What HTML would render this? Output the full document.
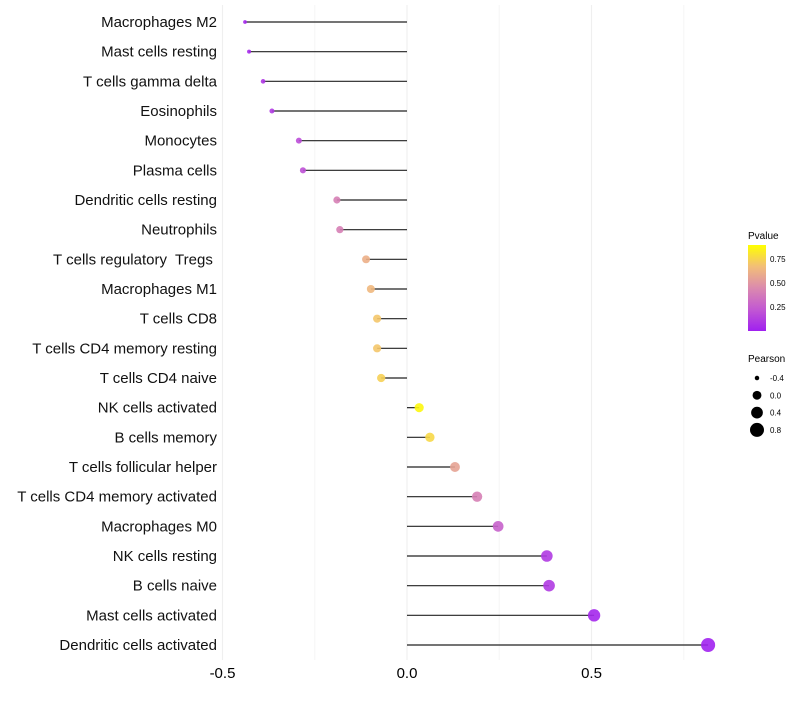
<!DOCTYPE html>
<html><head><meta charset="utf-8"><style>
body{margin:0;background:#fff;}
svg text{font-family:"Liberation Sans",sans-serif;white-space:pre;}
</style></head><body>
<svg id="chart" width="800" height="700" xmlns="http://www.w3.org/2000/svg">
<defs>
<linearGradient id="pg" x1="0" y1="1" x2="0" y2="0">
<stop offset="0" stop-color="#A020F0"/>
<stop offset="0.25" stop-color="#C258D2"/>
<stop offset="0.5" stop-color="#DB8AAE"/>
<stop offset="0.75" stop-color="#F2BE78"/>
<stop offset="1" stop-color="#FFFF00"/>
</linearGradient>
</defs>
<g id="grid"></g>
<g id="marks"></g>
<g id="ylabels"></g>
<g id="xlabels"></g>
<g>
<text x="748" y="239" font-size="10">Pvalue</text>
<rect x="748" y="245" width="18" height="86" fill="url(#pg)"/>
<text x="770" y="262" font-size="8">0.75</text>
<text x="770" y="286" font-size="8">0.50</text>
<text x="770" y="310" font-size="8">0.25</text>
</g>
<g id="sizeleg">
<text x="748" y="362" font-size="10">Pearson</text>
</g>
</svg>
<script>
const categories=["Macrophages M2","Mast cells resting","T cells gamma delta","Eosinophils","Monocytes","Plasma cells","Dendritic cells resting","Neutrophils","T cells regulatory  Tregs ","Macrophages M1","T cells CD8","T cells CD4 memory resting","T cells CD4 naive","NK cells activated","B cells memory","T cells follicular helper","T cells CD4 memory activated","Macrophages M0","NK cells resting","B cells naive","Mast cells activated","Dendritic cells activated"];
const pearson=[-0.439,-0.428,-0.39,-0.366,-0.293,-0.282,-0.19,-0.182,-0.111,-0.098,-0.081,-0.081,-0.07,0.033,0.062,0.13,0.19,0.247,0.379,0.385,0.507,0.816];
const pvalues=[0.03,0.04,0.1,0.12,0.2,0.22,0.45,0.45,0.68,0.72,0.78,0.78,0.82,0.97,0.85,0.62,0.45,0.3,0.12,0.12,0.03,0.01];
const xTicks=[-0.5,0,0.5];
const xMinor=[-0.25,0.25,0.75];
const sizeLegend=[-0.4,0.0,0.4,0.8];
const NS="http://www.w3.org/2000/svg";
const xs=v=>407+v*369;
const ys=i=>22+i*(623/21);
const rs=v=>Math.sqrt(5+(v+0.4)/1.2*44);
const stops=[[0,[160,32,240]],[0.25,[194,88,210]],[0.5,[219,138,174]],[0.75,[242,190,120]],[1,[255,255,0]]];
function col(p){for(let k=0;k<stops.length-1;k++){const a=stops[k],b=stops[k+1];if(p<=b[0]){const t=(p-a[0])/(b[0]-a[0]);return 'rgb('+a[1].map((c,j)=>Math.round(c+(b[1][j]-c)*t)).join(',')+')';}}return 'rgb(255,255,0)';}
function mk(tag,attrs,parent){const e=document.createElementNS(NS,tag);for(const k in attrs)e.setAttribute(k,attrs[k]);parent.appendChild(e);return e;}
const grid=document.getElementById('grid'),marks=document.getElementById('marks'),yl=document.getElementById('ylabels'),xl=document.getElementById('xlabels'),sl=document.getElementById('sizeleg');
xMinor.forEach(v=>{const l=mk('line',{x1:xs(v),x2:xs(v),y1:5,y2:660,stroke:'#f5f5f5','stroke-width':1},grid);

});
xTicks.forEach(v=>{const l=mk('line',{x1:xs(v),x2:xs(v),y1:5,y2:660,stroke:'#efefef','stroke-width':1.2},grid);


const t=mk('text',{x:xs(v),y:678,'font-size':15,'text-anchor':'middle',fill:'#000'},xl);t.textContent=(v===0?'0.0':String(v));

});
categories.forEach((c,i)=>{const y=ys(i);
const s=mk('line',{x1:xs(0),x2:xs(pearson[i]),y1:y,y2:y,stroke:'#222','stroke-width':1.2},marks);


const p=mk('circle',{cx:xs(pearson[i]),cy:y,r:rs(pearson[i]),fill:col(pvalues[i]),'fill-opacity':0.9},marks);


const t=mk('text',{x:217,y:y+5,'font-size':15,'text-anchor':'end',fill:'#111'},yl);t.textContent=c;

});
sizeLegend.forEach((v,k)=>{const y=378+k*17.3;
const c=mk('circle',{cx:757,cy:y,r:rs(v),fill:'#000'},sl);


const t=mk('text',{x:770,y:y+3,'font-size':8},sl);t.textContent=v.toFixed(1);

});
</script>
</body></html>
